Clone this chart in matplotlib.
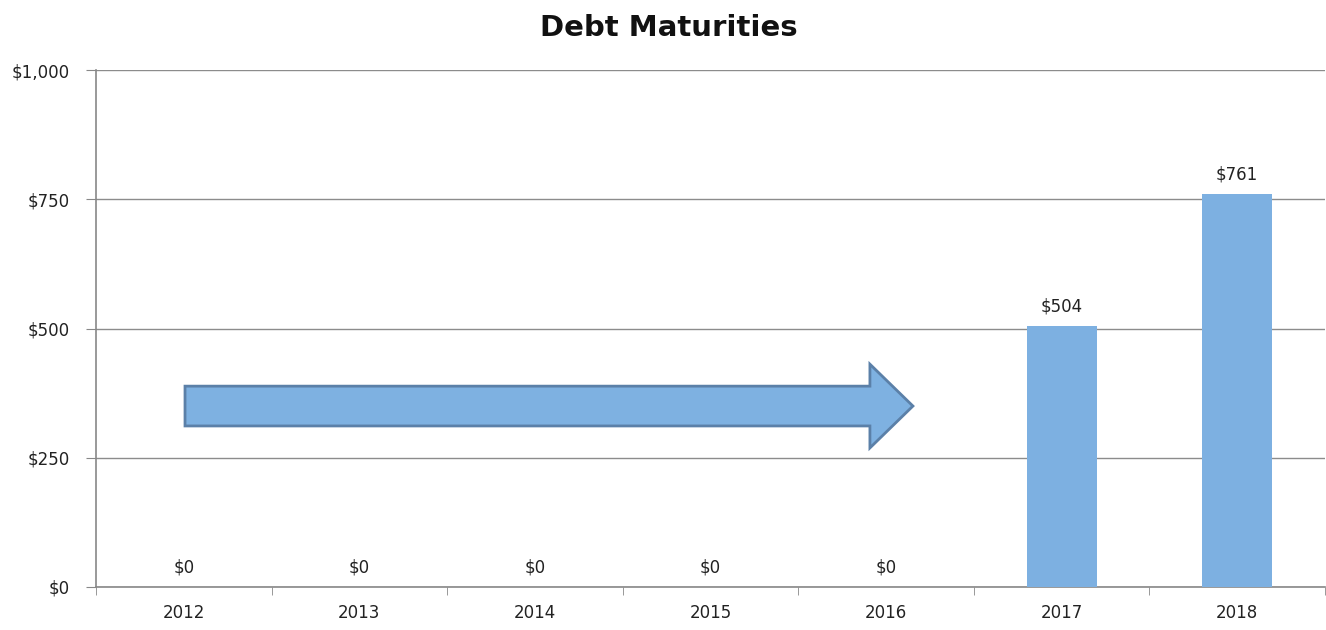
import matplotlib
matplotlib.use("Agg")
import matplotlib.pyplot as plt
from matplotlib.patches import Polygon
import numpy as np

years = ["2012", "2013", "2014", "2015", "2016", "2017", "2018"]
maturities = [0, 0, 0, 0, 0, 504, 761]
y_ticks = [0, 250, 500, 750, 1000]
y_tick_labels = ["$0", "$250", "$500", "$750", "$1,000"]

plt.rcParams["font.family"] = ["DejaVu Sans"]

fig = plt.figure(figsize=(13.26, 6.3), dpi=100)
ax = fig.add_axes([96 / 1326, 43 / 630, 1229 / 1326, 517 / 630])

x = np.arange(len(years))
bar_color = "#7DB0E1"
ax.bar(x, maturities, width=0.4, color=bar_color, zorder=3)

for xi, v in zip(x, maturities):
    ax.annotate(f"${v:,}", (xi, v), xytext=(0, 14), textcoords="offset points",
                ha="center", va="center", fontsize=12, color="#222222", zorder=4)

# Block arrow across the years without maturities
ax_x0, ax_x1, head_x = 0.007, 4.153, 3.908
yc, body_h, head_h = 350, 77, 162
arrow_pts = [
    (ax_x0, yc - body_h / 2), (head_x, yc - body_h / 2), (head_x, yc - head_h / 2),
    (ax_x1, yc), (head_x, yc + head_h / 2), (head_x, yc + body_h / 2),
    (ax_x0, yc + body_h / 2),
]
ax.add_patch(Polygon(arrow_pts, closed=True, facecolor="#7EB1E1",
                     edgecolor="#5B80A8", linewidth=2, zorder=5))

ax.set_xlim(-0.5, len(years) - 0.5)
ax.set_ylim(0, 1000)
ax.set_yticks(y_ticks)
ax.set_yticklabels(y_tick_labels, fontsize=12, color="#222222")
ax.set_xticks(x)
ax.set_xticklabels(years, fontsize=12, color="#222222")
ax.set_xticks(np.arange(-0.5, len(years), 1.0), minor=True)
ax.tick_params(axis="x", which="major", length=0, pad=12)
ax.tick_params(axis="x", which="minor", length=6, color="#888888", direction="out")
ax.tick_params(axis="y", length=7, color="#888888", pad=12)

ax.yaxis.grid(True, color="#8C8C8C", linewidth=1.0, zorder=0)
ax.set_axisbelow(True)
for s in ("top", "right"):
    ax.spines[s].set_visible(False)
for s in ("left", "bottom"):
    ax.spines[s].set_color("#888888")
    ax.spines[s].set_linewidth(1.2)

fig.text(669 / 1326, 1 - 28 / 630, "Debt Maturities", ha="center", va="center",
         fontsize=21, fontweight="bold", color="#111111")

fig.savefig("out.png", dpi=100)
